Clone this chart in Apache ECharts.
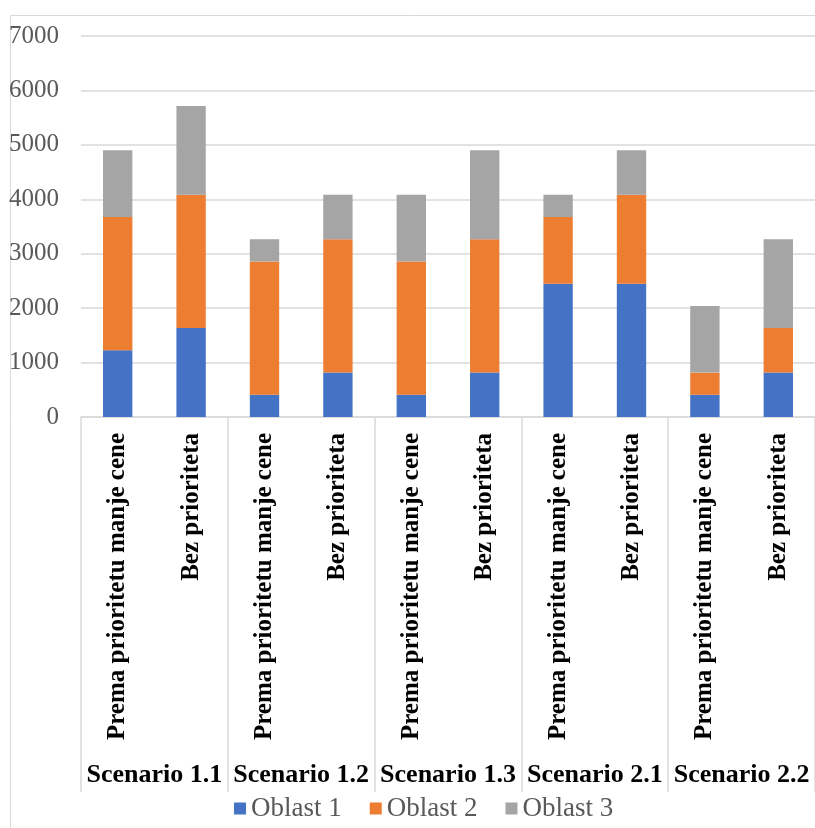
<!DOCTYPE html>
<html>
<head>
<meta charset="utf-8">
<script src="https://cdn.jsdelivr.net/npm/echarts@6/dist/echarts.min.js"></script>
<style>
html,body{margin:0;padding:0;background:#fff;}
#chart{width:815px;height:828px;}
</style>
</head>
<body>
<div id="chart"></div>
<script>
var categories = ['Prema prioritetu manje cene','Bez prioriteta','Prema prioritetu manje cene','Bez prioriteta','Prema prioritetu manje cene','Bez prioriteta','Prema prioritetu manje cene','Bez prioriteta','Prema prioritetu manje cene','Bez prioriteta'];
var groups = ['Scenario 1.1','Scenario 1.2','Scenario 1.3','Scenario 2.1','Scenario 2.2'];
var oblast1 = [1225, 1633, 408, 817, 408, 817, 2450, 2450, 408, 817];
var oblast2 = [2450, 2450, 2450, 2450, 2450, 2450, 1225, 1633, 408, 817];
var oblast3 = [1225, 1633, 408, 817, 1225, 1633, 408, 817, 1225, 1633];
var seriesNames = ['Oblast 1','Oblast 2','Oblast 3'];
var yTicks = {min: 0, max: 7000, interval: 1000};

var FONT = '"Liberation Serif", "Times New Roman", serif';
var chart = echarts.init(document.getElementById('chart'));
var colors = ['#4472C4','#ED7D31','#A5A5A5'];
var dataSets = [oblast1, oblast2, oblast3];

chart.setOption({
  animation: false,
  color: colors,
  graphic: [{
    type: 'rect', left: 8, top: 13, shape: {width: 820, height: 830},
    style: {fill: 'none', stroke: '#d9d9d9', lineWidth: 1}, z: -1
  }],
  grid: {left: 81, right: 0, top: 36, bottom: 411, containLabel: false},
  legend: {
    data: seriesNames, left: 229, top: 790,
    itemWidth: 12, itemHeight: 12, itemGap: 28, icon: 'rect',
    textStyle: {fontFamily: FONT, fontSize: 27, color: '#595959'}
  },
  xAxis: [{
    type: 'category', data: categories, position: 'bottom',
    axisLine: {show: true, lineStyle: {color: '#d9d9d9', width: 1.5}},
    axisTick: {show: false},
    axisLabel: {interval: 0, rotate: 90, margin: 16, fontFamily: FONT, fontSize: 25, fontWeight: 'bold', color: '#000'}
  }, {
    type: 'category', data: groups, position: 'bottom', gridIndex: 0,
    axisLine: {show: false},
    axisTick: {show: true, length: 375, alignWithLabel: false, lineStyle: {color: '#d9d9d9', width: 1.5}},
    axisLabel: {interval: 0, margin: 345, fontFamily: FONT, fontSize: 26, fontWeight: 'bold', color: '#000'}
  }],
  yAxis: {
    type: 'value', min: yTicks.min, max: yTicks.max, interval: yTicks.interval,
    axisLine: {show: false}, axisTick: {show: false},
    splitLine: {lineStyle: {color: '#d9d9d9', width: 1.5}},
    axisLabel: {margin: 22, fontFamily: FONT, fontSize: 25, color: '#595959', formatter: function (v) { return String(v); }}
  },
  series: seriesNames.map(function (n, i) {
    return {name: n, type: 'bar', stack: 'total', barWidth: '40%', xAxisIndex: 0, data: dataSets[i]};
  })
});
</script>
</body>
</html>
